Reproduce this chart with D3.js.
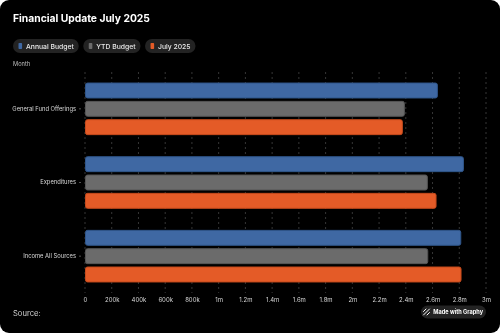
<!DOCTYPE html>
<html>
<head>
<meta charset="utf-8">
<script src="https://cdn.jsdelivr.net/npm/d3@7/dist/d3.min.js"></script>
<style>
  html, body { margin: 0; padding: 0; background: #ffffff; }
  svg { display: block; font-family: Inter, "Noto Sans", sans-serif; transform: translateZ(0); }
</style>
</head>
<body>
<svg id="chart" width="500" height="333"></svg>
<script>
// Categories and series values (in dollars)
const categories = ["General Fund Offerings", "Expenditures", "Income All Sources"];
const seriesNames = ["Annual Budget", "YTD Budget", "July 2025"];
const annualBudget = [2640000, 2835000, 2815000];
const ytdBudget = [2393000, 2565000, 2568000];
const july2025 = [2378000, 2630000, 2817000];
const tickValues = [0, 200000, 400000, 600000, 800000, 1000000, 1200000, 1400000, 1600000, 1800000, 2000000, 2200000, 2400000, 2600000, 2800000, 3000000];
const tickLabels = ["0", "200k", "400k", "600k", "800k", "1m", "1.2m", "1.4m", "1.6m", "1.8m", "2m", "2.2m", "2.4m", "2.6m", "2.8m", "3m"];

const colors = ["#3f68a3", "#6b6b6b", "#e45b27"];
const strokes = ["#2f5589", "#555555", "#c44a1c"];
const values = [annualBudget, ytdBudget, july2025];

const svg = d3.select("#chart");
const W = 500, H = 333;
const FONT = "Inter, 'Noto Sans', sans-serif";

// Card background
svg.append("rect").attr("x", 0).attr("y", 0).attr("width", W).attr("height", H)
  .attr("rx", 9).attr("fill", "#000000");

// Title
svg.append("text").attr("x", 13).attr("y", 22)
  .attr("fill", "#ffffff").attr("font-size", 10.3).attr("font-weight", 700)
  .text("Financial Update July 2025");

// Legend pills
const legend = svg.append("g");
let lx = 13;
seriesNames.forEach((name, i) => {
  const g = legend.append("g").attr("transform", `translate(${lx},39)`);
  const t = g.append("text").attr("x", 13).attr("y", 9.6)
    .attr("fill", "#e8e8e8").attr("font-size", 6.8).attr("font-weight", 500).text(name);
  const tw = t.node().getComputedTextLength();
  const w = tw + 18;
  g.insert("rect", "text").attr("width", w).attr("height", 14).attr("rx", 7)
    .attr("fill", "#232323");
  g.append("rect").attr("x", 5.5).attr("y", 4).attr("width", 3.6).attr("height", 6).attr("rx", 0.8)
    .attr("fill", colors[i]);
  lx += w + 4.5;
});

// Axis title
svg.append("text").attr("x", 13).attr("y", 66)
  .attr("fill", "#bdbdbd").attr("font-size", 5.7).text("Month");

// Scales
const margin = { left: 85, right: 486, top: 72, bottom: 293 };
const x = d3.scaleLinear().domain([0, 3000000]).range([margin.left, margin.right]);
const y0 = d3.scaleBand().domain(categories).range([margin.top, margin.bottom]).paddingInner(0.286).paddingOuter(0.143);
const y1 = d3.scaleBand().domain(seriesNames).range([0, y0.bandwidth()]).paddingInner(0.13);

// Dashed vertical gridlines
svg.append("g").selectAll("line").data(tickValues).join("line")
  .attr("x1", d => x(d)).attr("x2", d => x(d))
  .attr("y1", margin.top).attr("y2", margin.bottom)
  .attr("stroke", "#444444").attr("stroke-width", 0.8).attr("stroke-dasharray", "2,3");

// X axis labels
const xAxis = d3.axisBottom(x).tickValues(tickValues).tickSize(0).tickPadding(0)
  .tickFormat((d, i) => tickLabels[i]);
const xg = svg.append("g").attr("transform", `translate(0,${margin.bottom + 5})`).call(xAxis);
xg.select(".domain").remove();
xg.selectAll("text").attr("fill", "#d4d4d4").attr("font-size", 6)
  .attr("font-family", FONT);

// Y axis labels
const yAxis = d3.axisLeft(y0).tickSize(2).tickPadding(3);
const yg = svg.append("g").attr("transform", `translate(${margin.left - 4},0)`).call(yAxis);
yg.select(".domain").remove();
yg.selectAll(".tick line").attr("stroke", "#555555");
yg.selectAll("text").attr("fill", "#d8d8d8").attr("font-size", 5.8)
  .attr("font-family", FONT);

// Bars
const groups = svg.append("g").selectAll("g").data(categories).join("g")
  .attr("transform", d => `translate(0,${y0(d)})`);
groups.selectAll("rect").data((c, ci) => seriesNames.map((s, si) => ({ s, si, v: values[si][ci] })))
  .join("rect")
  .attr("x", x(0) + 0.5)
  .attr("y", d => y1(d.s) + 0.5)
  .attr("width", d => x(d.v) - x(0) - 1)
  .attr("height", y1.bandwidth() - 1)
  .attr("rx", 2)
  .attr("fill", d => colors[d.si])
  .attr("stroke", d => strokes[d.si])
  .attr("stroke-width", 1);

// Footer
svg.append("text").attr("x", 13).attr("y", 316)
  .attr("fill", "#d0d0d0").attr("font-size", 7.6).text("Source:");

const badge = svg.append("g").attr("transform", "translate(421,305.5)");
badge.append("rect").attr("width", 65).attr("height", 13).attr("rx", 6.5).attr("fill", "#232323");
const icon = badge.append("g").attr("transform", "translate(2.5,3.5)").attr("stroke", "#ffffff")
  .attr("stroke-width", 1).attr("stroke-linecap", "round");
[[0, 2.5, 2.5, 0], [0, 6, 6, 0], [3.5, 6, 6, 3.5]].forEach(p => {
  icon.append("line").attr("x1", p[0]).attr("y1", p[1]).attr("x2", p[2]).attr("y2", p[3]);
});
badge.append("text").attr("x", 12.3).attr("y", 8.8).attr("fill", "#ffffff")
  .attr("font-size", 5.6).attr("font-weight", 700).text("Made with Graphy");
</script>
</body>
</html>
